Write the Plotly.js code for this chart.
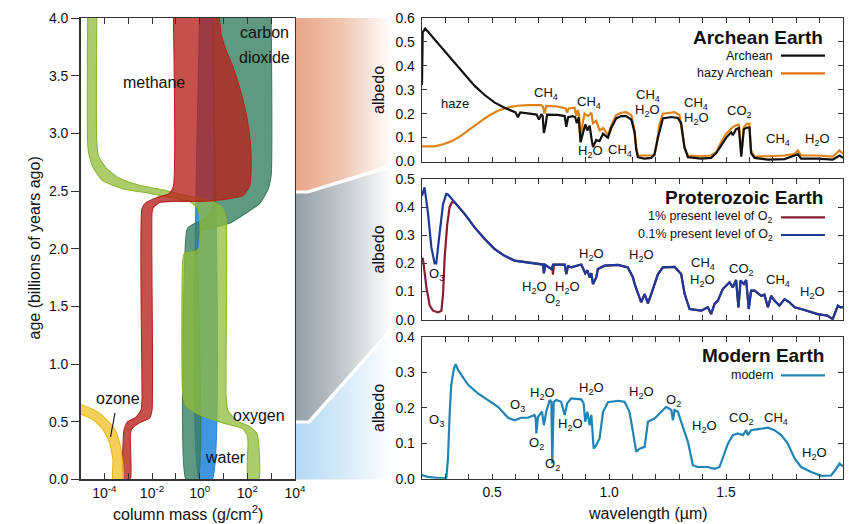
<!DOCTYPE html>
<html><head><meta charset="utf-8">
<script src="https://cdn.plot.ly/plotly-3.0.1.min.js"></script>
<style>html,body{margin:0;padding:0;background:#fff;}#chart{width:851px;height:524px;}</style>
</head><body><div id="chart"></div>
<script>
// ===== Left panel: column mass (log10 g/cm^2) bands versus age (billions of years ago)
const oxygenLeftAge  = [4.0, 2.91, 2.80, 2.70, 2.59, 2.52, 2.48, 2.44, 2.41, 2.35, 2.28, 2.02, 1.98, 1.96, 1.90, 0.75, 0.64, 0.56, 0.49, 0.44, 0.38, 0.32, 0.0];
const oxygenLeftLog  = [-4.70, -4.70, -4.63, -4.46, -4.07, -3.23, -2.11, -1.13, -0.43, -0.08, 0.0, 0.0, -0.15, -0.64, -0.71, -0.71, -0.57, 0.0, 0.97, 1.81, 2.0, 2.03, 2.03];
const oxygenRightAge = [4.0, 2.94, 2.80, 2.70, 2.61, 2.55, 2.51, 2.46, 2.44, 2.41, 2.35, 2.25, 0.72, 0.60, 0.51, 0.46, 0.40, 0.30, 0.0];
const oxygenRightLog = [-4.32, -4.32, -4.24, -3.93, -3.37, -2.53, -1.55, -0.57, 0.0, 0.55, 0.97, 1.11, 1.11, 1.18, 1.53, 2.09, 2.40, 2.48, 2.48];

const methaneLeftAge  = [4.0, 2.54, 2.48, 2.44, 2.40, 2.35, 0.69, 0.60, 0.54, 0.50, 0.44, 0.37, 0.0];
const methaneLeftLog  = [-1.10, -1.10, -1.27, -1.83, -2.25, -2.42, -2.42, -2.46, -2.67, -3.02, -3.16, -3.20, -3.20];
const methaneRightAge = [4.0, 3.86, 3.72, 3.58, 3.40, 3.17, 2.94, 2.71, 2.54, 2.46, 2.43, 2.41, 2.41, 2.40, 2.36, 2.31, 0.60, 0.53, 0.49, 0.44, 0.40, 0.0];
const methaneRightLog = [0.83, 0.90, 1.11, 1.39, 1.67, 1.95, 2.12, 2.16, 2.09, 1.81, 1.11, 0.0, -1.13, -1.69, -1.94, -2.00, -2.00, -2.11, -2.53, -2.84, -2.91, -2.91];

const co2LeftAge  = [4.0, 2.42, 2.33, 2.25, 2.21, 2.18, 2.12, 0.0];
const co2LeftLog  = [0.55, 0.60, 0.50, 0.13, -0.29, -0.50, -0.57, -0.57];
const co2RightAge = [4.0, 2.64, 2.51, 2.39, 2.31, 2.22, 2.18, 2.15, 2.07, 0.0];
const co2RightLog = [3.0, 3.0, 2.86, 2.51, 1.95, 1.25, 0.55, 0.0, -0.08, -0.08];

const waterLeftAge  = [4.0, 0.0];
const waterLeftLog  = [0.0, 0.0];
const waterRightAge = [4.0, 0.0];
const waterRightLog = [0.52, 0.52];

const ozoneUpperAge = [0.66, 0.593, 0.52, 0.434, 0.318, 0.174, 0.0];
const ozoneUpperLog = [-5.1, -4.34, -3.92, -3.57, -3.36, -3.25, -3.22];
const ozoneLowerAge = [0.575, 0.52, 0.434, 0.318, 0.174, 0.0];
const ozoneLowerLog = [-5.1, -4.48, -4.06, -3.78, -3.64, -3.64];

// ===== Right panels: albedo spectra versus wavelength (um)
const archeanWl = [0.200,0.203,0.214,0.254,0.297,0.340,0.382,0.425,0.468,0.511,0.553,0.580,0.600,0.610,0.620,0.660,0.690,0.700,0.710,0.716,0.721,0.728,0.735,0.780,0.810,0.817,0.825,0.845,0.855,0.862,0.870,0.878,0.888,0.898,0.907,0.917,0.924,0.931,0.945,0.959,0.974,0.995,1.009,1.030,1.052,1.073,1.095,1.109,1.116,1.123,1.150,1.180,1.194,1.209,1.230,1.266,1.294,1.308,1.322,1.337,1.394,1.436,1.458,1.479,1.501,1.522,1.529,1.543,1.555,1.565,1.576,1.590,1.600,1.607,1.622,1.679,1.750,1.807,1.821,1.892,1.956,1.985,2.000];
const archeanAlb = [0.32,0.54,0.556,0.51,0.461,0.412,0.363,0.316,0.278,0.246,0.225,0.215,0.205,0.185,0.205,0.200,0.196,0.175,0.198,0.190,0.119,0.150,0.196,0.195,0.190,0.145,0.185,0.190,0.185,0.160,0.185,0.081,0.120,0.155,0.130,0.150,0.100,0.060,0.090,0.085,0.116,0.100,0.140,0.180,0.190,0.190,0.175,0.120,0.050,0.018,0.012,0.015,0.030,0.100,0.180,0.186,0.182,0.160,0.060,0.018,0.012,0.015,0.035,0.065,0.100,0.122,0.110,0.135,0.140,0.020,0.135,0.142,0.142,0.035,0.015,0.008,0.010,0.030,0.012,0.012,0.008,0.025,0.015];

const hazyWl = [0.200,0.254,0.290,0.325,0.360,0.397,0.432,0.468,0.497,0.525,0.568,0.610,0.653,0.710,0.717,0.724,0.731,0.780,0.815,0.820,0.828,0.852,0.860,0.866,0.871,0.878,0.885,0.895,0.910,0.924,0.931,0.945,0.959,0.975,0.995,1.009,1.030,1.052,1.073,1.095,1.109,1.116,1.123,1.150,1.194,1.201,1.216,1.230,1.280,1.301,1.308,1.322,1.337,1.394,1.436,1.458,1.479,1.501,1.522,1.529,1.543,1.555,1.565,1.576,1.590,1.600,1.607,1.622,1.679,1.750,1.793,1.807,1.821,1.892,1.956,1.985,2.000];
const hazyAlb = [0.063,0.063,0.072,0.084,0.103,0.130,0.157,0.180,0.198,0.212,0.226,0.233,0.236,0.236,0.230,0.200,0.232,0.230,0.222,0.205,0.222,0.225,0.190,0.215,0.200,0.081,0.150,0.200,0.190,0.204,0.160,0.170,0.130,0.140,0.110,0.150,0.194,0.204,0.206,0.194,0.130,0.060,0.025,0.024,0.025,0.060,0.158,0.200,0.206,0.194,0.144,0.060,0.025,0.022,0.025,0.039,0.081,0.116,0.137,0.144,0.151,0.154,0.032,0.144,0.158,0.158,0.046,0.020,0.022,0.025,0.032,0.046,0.025,0.025,0.020,0.046,0.032];

const o2TenthWl = [0.200,0.211,0.226,0.240,0.254,0.261,0.275,0.290,0.304,0.311,0.340,0.382,0.425,0.468,0.511,0.553,0.596,0.653,0.710,0.718,0.721,0.727,0.753,0.760,0.810,0.817,0.824,0.838,0.881,0.891,0.898,0.907,0.917,0.924,0.931,0.945,0.952,0.981,1.038,1.080,1.102,1.109,1.123,1.137,1.152,1.166,1.180,1.194,1.209,1.230,1.280,1.308,1.323,1.344,1.394,1.422,1.436,1.451,1.465,1.486,1.515,1.529,1.543,1.553,1.562,1.576,1.586,1.597,1.607,1.622,1.650,1.664,1.679,1.693,1.707,1.728,1.750,1.771,1.793,1.821,1.892,1.935,1.956,1.978,1.989,2.000];
const o2TenthAlb = [0.440,0.470,0.376,0.257,0.200,0.200,0.305,0.411,0.447,0.445,0.417,0.376,0.328,0.287,0.251,0.227,0.210,0.204,0.198,0.196,0.165,0.195,0.180,0.196,0.196,0.162,0.190,0.186,0.196,0.180,0.165,0.175,0.150,0.165,0.127,0.150,0.180,0.192,0.195,0.186,0.150,0.127,0.091,0.062,0.091,0.058,0.091,0.127,0.162,0.186,0.188,0.162,0.091,0.038,0.032,0.044,0.020,0.056,0.068,0.109,0.133,0.115,0.141,0.044,0.139,0.127,0.141,0.038,0.103,0.103,0.085,0.089,0.044,0.085,0.068,0.050,0.073,0.062,0.044,0.038,0.020,0.014,0.002,0.050,0.044,0.045];

const o2OneWl = [0.200,0.204,0.219,0.233,0.247,0.268,0.283,0.290,0.297,0.308,0.318,0.328,0.340,0.382,0.425,0.468,0.511,0.553,0.596,0.653,0.710,0.718,0.721,0.727,0.753,0.757,0.760,0.764,0.810,0.817,0.824,0.838,0.881,0.891,0.898,0.907,0.917,0.924,0.931,0.945,0.952,0.981,1.038,1.080,1.102,1.109,1.123,1.137,1.152,1.166,1.180,1.194,1.209,1.230,1.280,1.308,1.323,1.344,1.394,1.422,1.436,1.451,1.465,1.486,1.515,1.529,1.543,1.553,1.562,1.576,1.586,1.597,1.607,1.622,1.650,1.664,1.679,1.693,1.707,1.728,1.750,1.771,1.793,1.821,1.892,1.935,1.956,1.978,1.989,2.000];
const o2OneAlb = [0.216,0.216,0.115,0.050,0.032,0.026,0.032,0.091,0.222,0.340,0.399,0.417,0.417,0.376,0.328,0.287,0.251,0.227,0.210,0.204,0.198,0.196,0.165,0.195,0.180,0.190,0.160,0.196,0.196,0.162,0.190,0.186,0.196,0.180,0.165,0.175,0.150,0.165,0.127,0.150,0.180,0.192,0.195,0.186,0.150,0.127,0.091,0.062,0.091,0.058,0.091,0.127,0.162,0.186,0.188,0.162,0.091,0.038,0.032,0.044,0.020,0.056,0.068,0.109,0.133,0.115,0.141,0.044,0.139,0.127,0.141,0.038,0.103,0.103,0.085,0.089,0.044,0.085,0.068,0.050,0.073,0.062,0.044,0.038,0.020,0.014,0.002,0.050,0.044,0.045];

const modernWl = [0.200,0.204,0.226,0.268,0.304,0.311,0.318,0.325,0.337,0.344,0.354,0.397,0.439,0.482,0.525,0.568,0.596,0.624,0.653,0.681,0.686,0.689,0.693,0.696,0.713,0.721,0.731,0.746,0.753,0.757,0.763,0.774,0.795,0.810,0.821,0.838,0.881,0.891,0.898,0.907,0.917,0.924,0.934,0.945,0.959,0.974,0.995,1.038,1.066,1.087,1.102,1.116,1.130,1.152,1.166,1.180,1.194,1.216,1.244,1.266,1.273,1.280,1.294,1.315,1.337,1.358,1.379,1.422,1.451,1.472,1.486,1.508,1.529,1.550,1.572,1.586,1.593,1.607,1.636,1.679,1.707,1.736,1.764,1.793,1.821,1.864,1.907,1.949,1.971,1.985,2.000];
const modernAlb = [0.012,0.009,0.005,0.002,0.002,0.057,0.180,0.265,0.312,0.323,0.307,0.265,0.241,0.222,0.203,0.172,0.165,0.172,0.172,0.180,0.170,0.128,0.170,0.175,0.189,0.151,0.189,0.222,0.217,0.043,0.217,0.222,0.217,0.180,0.213,0.227,0.224,0.213,0.161,0.189,0.151,0.180,0.085,0.095,0.113,0.189,0.216,0.220,0.217,0.189,0.132,0.076,0.085,0.090,0.161,0.165,0.170,0.184,0.203,0.194,0.165,0.194,0.189,0.147,0.104,0.038,0.033,0.033,0.028,0.033,0.057,0.099,0.123,0.128,0.123,0.137,0.123,0.137,0.140,0.144,0.137,0.123,0.099,0.057,0.033,0.019,0.008,0.009,0.028,0.043,0.035];

// Tick labels
const massTickVals = [1e-4, 1e-3, 1e-2, 1e-1, 1, 10, 100, 1e3, 1e4];
const massTickText = ['10<sup>-4</sup>', '', '10<sup>-2</sup>', '', '10<sup>0</sup>', '', '10<sup>2</sup>', '', '10<sup>4</sup>'];
const wlTickVals = [0.2,0.3,0.4,0.5,0.6,0.7,0.8,0.9,1.0,1.1,1.2,1.3,1.4,1.5,1.6,1.7,1.8,1.9,2.0];
const wlTickText = ['','','','0.5','','','','','1.0','','','','','1.5','','','','','2.0'];

// ===== helpers
const W = 851, H = 524;
const px = v => v / W;
const py = v => 1 - v / H;
const FONT = 'Arial, "Liberation Sans", sans-serif';

function band(la, ll, ra, rl) {
  const x = ll.map(v => Math.pow(10, v)).concat(rl.slice().reverse().map(v => Math.pow(10, v)));
  const y = la.concat(ra.slice().reverse());
  return {x, y};
}
function bandTrace(b, fill, edge) {
  return {type:'scatter', mode:'lines', x:b.x, y:b.y, xaxis:'x', yaxis:'y', fill:'toself',
    fillcolor:fill, line:{color:edge, width:1.1, shape:'spline', smoothing:0.5}, hoverinfo:'skip', showlegend:false};
}

const traces = [
  bandTrace(band(waterLeftAge, waterLeftLog, waterRightAge, waterRightLog), 'rgba(30,130,220,0.85)', 'rgba(30,120,210,0.9)'),
  bandTrace(band(co2LeftAge, co2LeftLog, co2RightAge, co2RightLog), 'rgba(55,128,98,0.8)', '#3c7b5f'),
  bandTrace(band(oxygenLeftAge, oxygenLeftLog, oxygenRightAge, oxygenRightLog), 'rgba(145,188,60,0.75)', '#8ab52e'),
  bandTrace(band(methaneLeftAge, methaneLeftLog, methaneRightAge, methaneRightLog), 'rgba(182,32,26,0.78)', '#b3261e'),
  bandTrace(band(ozoneUpperAge, ozoneUpperLog, ozoneLowerAge, ozoneLowerLog), 'rgba(242,200,60,0.85)', '#e8b820'),
  {type:'scatter', mode:'lines', x:hazyWl, y:hazyAlb, xaxis:'x2', yaxis:'y2', line:{color:'#df8214', width:2.2}, hoverinfo:'skip', showlegend:false},
  {type:'scatter', mode:'lines', x:archeanWl, y:archeanAlb, xaxis:'x2', yaxis:'y2', line:{color:'#111111', width:2.2}, hoverinfo:'skip', showlegend:false},
  {type:'scatter', mode:'lines', x:o2OneWl, y:o2OneAlb, xaxis:'x3', yaxis:'y3', line:{color:'#8a1a2e', width:2.2}, hoverinfo:'skip', showlegend:false},
  {type:'scatter', mode:'lines', x:o2TenthWl, y:o2TenthAlb, xaxis:'x3', yaxis:'y3', line:{color:'#1b3a9a', width:2.2}, hoverinfo:'skip', showlegend:false},
  {type:'scatter', mode:'lines', x:modernWl, y:modernAlb, xaxis:'x4', yaxis:'y4', line:{color:'#1f84b6', width:2.2}, hoverinfo:'skip', showlegend:false}
];

const axLine = {showline:true, linecolor:'#333', linewidth:1.3, showgrid:false, zeroline:false, tickcolor:'#333',
  tickfont:{family:FONT, size:14, color:'#111'}};
function wlAxis(anchor, yTop, yBot, labels) {
  return Object.assign({}, axLine, {domain:[px(422), px(843)], anchor, range:[0.2, 2.0], tickvals:wlTickVals,
    ticktext:wlTickText, showticklabels:labels, ticks:'inside', ticklen:5, mirror:'ticks'});
}
function albAxis(anchor, yTop, yBot, top) {
  return Object.assign({}, axLine, {domain:[py(yBot), py(yTop)], anchor, range:[0, top], dtick:0.1, tickformat:'.1f',
    ticks:'inside', ticklen:5, mirror:'ticks', ticklabelstandoff:3});
}

// gradient connectors between panels
const svg = '<svg xmlns="http://www.w3.org/2000/svg" width="851" height="524" viewBox="0 0 851 524">' +
 '<defs>' +
 '<linearGradient id="gOr" gradientUnits="userSpaceOnUse" x1="295" y1="0" x2="392" y2="0"><stop offset="0" stop-color="#e7a688"/><stop offset="0.5" stop-color="#f0c6b2"/><stop offset="1" stop-color="#ffffff"/></linearGradient>' +
 '<linearGradient id="gGr" gradientUnits="userSpaceOnUse" x1="295" y1="0" x2="392" y2="0"><stop offset="0" stop-color="#939ea5"/><stop offset="0.5" stop-color="#c3c9cd"/><stop offset="1" stop-color="#ffffff"/></linearGradient>' +
 '<linearGradient id="gBl" gradientUnits="userSpaceOnUse" x1="295" y1="0" x2="392" y2="0"><stop offset="0" stop-color="#b3d8f3"/><stop offset="0.5" stop-color="#d6eaf8"/><stop offset="1" stop-color="#ffffff"/></linearGradient>' +
 '</defs>' +
 '<polygon points="295,18 392,18 392,164 307,190.5 295,190.5" fill="url(#gOr)"/>' +
 '<polygon points="295,193.5 308,193.5 392,168 392,326 308,420.5 295,420.5" fill="url(#gGr)"/>' +
 '<polygon points="295,423.5 310,423.5 392,331 392,479.4 295,479.4" fill="url(#gBl)"/>' +
 '</svg>';

function ann(text, x, y, opts) {
  return Object.assign({text, x, y, xref:'paper', yref:'paper', showarrow:false, xanchor:'center', yanchor:'middle',
    font:{family:FONT, size:16, color:'#111'}}, opts || {});
}
function lab(text, wl, a, ax) {
  return {text, x:wl, y:a, xref:'x' + ax, yref:'y' + ax, showarrow:false, xanchor:'center', yanchor:'middle',
    font:{family:FONT, size:13, color:'#111'}};
}
const H2O = 'H<sub>2</sub>O', CH4 = 'CH<sub>4</sub>', CO2 = 'CO<sub>2</sub>', O2 = 'O<sub>2</sub>', O3 = 'O<sub>3</sub>';

const annotations = [
  ann('age (billions of years ago)', px(34), py(248.5), {textangle:-90}),
  ann('column mass (g/cm<sup>2</sup>)', px(188), py(513)),
  ann('albedo', px(378), py(90), {textangle:-90}),
  ann('albedo', px(378), py(249.5), {textangle:-90}),
  ann('albedo', px(378), py(408), {textangle:-90}),
  ann('wavelength (\u00b5m)', px(648), py(513)),
  ann('carbon', px(264), py(33)),
  ann('dioxide', px(264), py(57)),
  ann('methane', px(154), py(83)),
  ann('ozone', px(117.5), py(398)),
  ann('oxygen', px(259), py(415)),
  ann('water', px(225.5), py(457)),
  // panel titles & legends
  ann('<b>Archean Earth</b>', px(825), py(37.5), {xanchor:'right', font:{family:FONT, size:19, color:'#111'}}),
  ann('Archean', px(775), py(55.7), {xanchor:'right', font:{family:FONT, size:12.5, color:'#111'}}),
  ann('hazy Archean', px(775), py(73.3), {xanchor:'right', font:{family:FONT, size:12.5, color:'#111'}}),
  ann('<b>Proterozoic Earth</b>', px(825), py(197.5), {xanchor:'right', font:{family:FONT, size:19, color:'#111'}}),
  ann('1% present level of ' + O2, px(775), py(217.3), {xanchor:'right', font:{family:FONT, size:12.5, color:'#111'}}),
  ann('0.1% present level of ' + O2, px(775), py(235), {xanchor:'right', font:{family:FONT, size:12.5, color:'#111'}}),
  ann('<b>Modern Earth</b>', px(826), py(355.5), {xanchor:'right', font:{family:FONT, size:19, color:'#111'}}),
  ann('modern', px(775), py(375.3), {xanchor:'right', font:{family:FONT, size:12.5, color:'#111'}}),
  // Archean spectral labels
  lab('haze', 0.340, 0.243, 2), lab(CH4, 0.731, 0.285, 2), lab(CH4, 0.914, 0.246, 2), lab(H2O, 0.919, 0.041, 2),
  lab(CH4, 1.045, 0.046, 2), lab(CH4, 1.166, 0.278, 2), lab(H2O, 1.166, 0.215, 2), lab(CH4, 1.372, 0.243, 2),
  lab(H2O, 1.372, 0.180, 2), lab(CO2, 1.558, 0.208, 2), lab(CH4, 1.724, 0.091, 2), lab(H2O, 1.889, 0.091, 2),
  // Proterozoic labels
  lab(O3, 0.261, 0.162, 3), lab(H2O, 0.679, 0.115, 3), lab(O2, 0.760, 0.073, 3), lab(H2O, 0.821, 0.115, 3),
  lab(H2O, 0.926, 0.233, 3), lab(H2O, 1.140, 0.227, 3), lab(CH4, 1.401, 0.198, 3), lab(H2O, 1.401, 0.141, 3),
  lab(CO2, 1.565, 0.180, 3), lab(CH4, 1.724, 0.139, 3), lab(H2O, 1.871, 0.097, 3),
  // Modern labels
  lab(O3, 0.261, 0.165, 4), lab(O3, 0.607, 0.206, 4), lab(H2O, 0.717, 0.241, 4), lab(O2, 0.689, 0.099, 4),
  lab(O2, 0.760, 0.041, 4), lab(H2O, 0.835, 0.153, 4), lab(H2O, 0.924, 0.255, 4), lab(H2O, 1.140, 0.243, 4),
  lab(O2, 1.277, 0.222, 4), lab(H2O, 1.408, 0.147, 4), lab(CO2, 1.565, 0.170, 4), lab(CH4, 1.714, 0.170, 4),
  lab(H2O, 1.878, 0.071, 4)
];

function legLine(y, color) {
  return {type:'line', xref:'paper', yref:'paper', x0:px(781), x1:px(825), y0:py(y), y1:py(y), line:{color, width:2.2}};
}
const shapes = [
  legLine(55.7, '#111111'), legLine(73.3, '#e0700f'),
  legLine(217.3, '#8a1a2e'), legLine(235, '#1b3a9a'),
  legLine(375.3, '#1f84b6'),
  {type:'line', xref:'paper', yref:'paper', x0:px(115), y0:py(413), x1:px(110.5), y1:py(437), line:{color:'#111', width:1.2}}
];

const layout = {
  width:W, height:H, margin:{l:0, r:0, t:0, b:0}, paper_bgcolor:'#ffffff', plot_bgcolor:'rgba(0,0,0,0)',
  showlegend:false, font:{family:FONT, color:'#111'},
  xaxis: Object.assign({}, axLine, {domain:[px(80.5), px(295)], anchor:'y', type:'log', range:[-5, 4],
    tickvals:massTickVals, ticktext:massTickText, ticks:'inside', ticklen:6, mirror:'ticks'}),
  yaxis: Object.assign({}, axLine, {domain:[py(479.4), py(18)], anchor:'x', range:[0, 4], dtick:0.5, tickformat:'.1f',
    ticks:'outside', ticklen:8, mirror:true}),
  xaxis2: wlAxis('y2', 18, 161.5, false),
  yaxis2: albAxis('x2', 18, 161.5, 0.6),
  xaxis3: wlAxis('y3', 179, 319.7, false),
  yaxis3: albAxis('x3', 179, 319.7, 0.5),
  xaxis4: wlAxis('y4', 337, 478.7, true),
  yaxis4: albAxis('x4', 337, 478.7, 0.4),
  annotations, shapes,
  images:[{source:'data:image/svg+xml;base64,' + btoa(svg), xref:'paper', yref:'paper', x:0, y:1, sizex:1, sizey:1,
    xanchor:'left', yanchor:'top', sizing:'stretch', layer:'below'}]
};

Plotly.newPlot('chart', traces, layout, {displayModeBar:false, staticPlot:true});
</script>
</body></html>
